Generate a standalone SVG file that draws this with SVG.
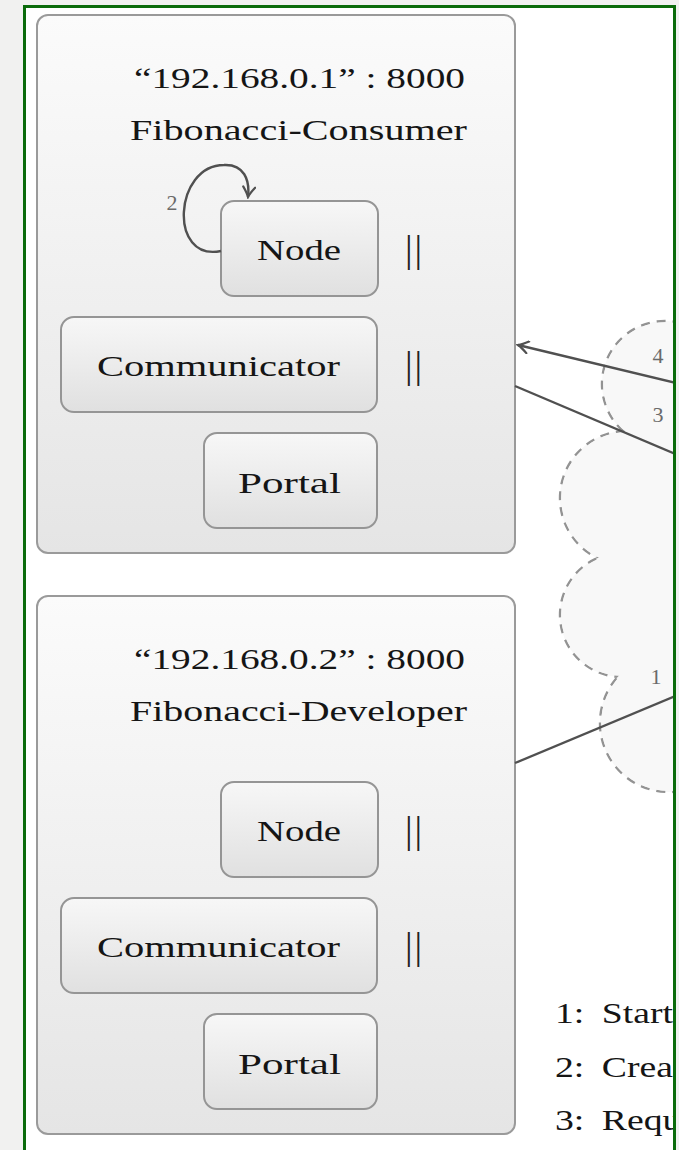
<svg xmlns="http://www.w3.org/2000/svg" width="679" height="1150" viewBox="0 0 679 1150">
<defs>
<style>
.outer{fill:url(#gOuter);stroke:#9a9a9a;stroke-width:2}
.inner{fill:url(#gInner);stroke:#959595;stroke-width:2}
.t{font-family:"Liberation Serif","Times New Roman",serif;font-size:30px;fill:#151515}
.bar{font-family:"Liberation Serif","Times New Roman",serif;font-size:38px;fill:#222;letter-spacing:2px}
.lbl{font-family:"Liberation Serif","Times New Roman",serif;font-size:22px;fill:#6a6a6a}
.edge{fill:none;stroke:#505050;stroke-width:2.4}
.puff{fill:#f8f8f8;stroke:#939393;stroke-width:2.4;stroke-dasharray:9 7}
.puffFill{fill:#f8f8f8;stroke:none}
.leg{font-family:"Liberation Serif","Times New Roman",serif;font-size:29px;fill:#151515}
</style>
<linearGradient id="gOuter" x1="0" y1="0" x2="0" y2="1">
<stop offset="0" stop-color="#fbfbfb"/>
<stop offset="1" stop-color="#e5e5e5"/>
</linearGradient>
<linearGradient id="gInner" x1="0" y1="0" x2="0" y2="1">
<stop offset="0" stop-color="#f7f7f7"/>
<stop offset="1" stop-color="#e0e0e0"/>
</linearGradient>
<marker id="arr" viewBox="-12 -7 14 14" refX="0" refY="0" markerWidth="14" markerHeight="14" markerUnits="userSpaceOnUse" orient="auto">
<path d="M-10,-6 Q-4,-1.5 0,0 Q-4,1.5 -10,6" fill="none" stroke="#505050" stroke-width="2.2" stroke-linecap="round"/>
</marker>
<clipPath id="frameClip"><rect x="26" y="8" width="647" height="1142"/></clipPath>
</defs>
<rect x="0" y="0" width="679" height="1150" fill="#f1f1f0"/>
<rect x="24" y="6" width="650" height="1150" fill="#ffffff"/>
<g clip-path="url(#frameClip)">
<g id="cloud">
<circle class="puff" cx="665" cy="384" r="63"/>
<circle class="puff" cx="627" cy="498" r="67"/>
<circle class="puff" cx="622" cy="615" r="62"/>
<circle class="puff" cx="669" cy="723" r="69"/>
<circle class="puffFill" cx="665" cy="384" r="61.8"/>
<circle class="puffFill" cx="627" cy="498" r="65.8"/>
<circle class="puffFill" cx="622" cy="615" r="60.8"/>
<circle class="puffFill" cx="669" cy="723" r="67.8"/>
<rect class="puffFill" x="640" y="400" width="40" height="340"/>
</g>
<g id="consumer">
<rect class="outer" x="37" y="15" width="478" height="538" rx="11"/>
<text class="t" x="299.5" y="88" text-anchor="middle" textLength="331" lengthAdjust="spacingAndGlyphs">“192.168.0.1” : 8000</text>
<text class="t" x="298.5" y="140" text-anchor="middle" textLength="337" lengthAdjust="spacingAndGlyphs">Fibonacci-Consumer</text>
<g id="consumer-node">
<rect class="inner" x="221" y="201" width="157" height="95" rx="13"/>
<text class="t" x="299" y="260" text-anchor="middle" textLength="84" lengthAdjust="spacingAndGlyphs">Node</text>
</g>
<text class="bar" x="414.5" y="262" text-anchor="middle">||</text>
<g id="consumer-communicator">
<rect class="inner" x="61" y="317" width="316" height="95" rx="13"/>
<text class="t" x="218.5" y="376" text-anchor="middle" textLength="243" lengthAdjust="spacingAndGlyphs">Communicator</text>
</g>
<text class="bar" x="414.5" y="378" text-anchor="middle">||</text>
<g id="consumer-portal">
<rect class="inner" x="204" y="433" width="173" height="95" rx="13"/>
<text class="t" x="289.5" y="493" text-anchor="middle" textLength="103" lengthAdjust="spacingAndGlyphs">Portal</text>
</g>
</g>
<g id="developer">
<rect class="outer" x="37" y="596" width="478" height="538" rx="11"/>
<text class="t" x="299.5" y="669" text-anchor="middle" textLength="331" lengthAdjust="spacingAndGlyphs">“192.168.0.2” : 8000</text>
<text class="t" x="298.5" y="721" text-anchor="middle" textLength="337" lengthAdjust="spacingAndGlyphs">Fibonacci-Developer</text>
<g id="developer-node">
<rect class="inner" x="221" y="782" width="157" height="95" rx="13"/>
<text class="t" x="299" y="841" text-anchor="middle" textLength="84" lengthAdjust="spacingAndGlyphs">Node</text>
</g>
<text class="bar" x="414.5" y="843" text-anchor="middle">||</text>
<g id="developer-communicator">
<rect class="inner" x="61" y="898" width="316" height="95" rx="13"/>
<text class="t" x="218.5" y="957" text-anchor="middle" textLength="243" lengthAdjust="spacingAndGlyphs">Communicator</text>
</g>
<text class="bar" x="414.5" y="959" text-anchor="middle">||</text>
<g id="developer-portal">
<rect class="inner" x="204" y="1014" width="173" height="95" rx="13"/>
<text class="t" x="289.5" y="1074" text-anchor="middle" textLength="103" lengthAdjust="spacingAndGlyphs">Portal</text>
</g>
</g>
<g id="connectors">
<path class="edge" d="M221,251 C168,262 174,165 224,165 C244,164 250,180 248,197" marker-end="url(#arr)"/>
<text class="lbl" x="172" y="210" text-anchor="middle">2</text>
<line class="edge" x1="680" y1="384" x2="518" y2="345" marker-end="url(#arr)"/>
<text class="lbl" x="658" y="363" text-anchor="middle">4</text>
<line class="edge" x1="515" y1="386" x2="680" y2="456"/>
<text class="lbl" x="658" y="422" text-anchor="middle">3</text>
<line class="edge" x1="515" y1="763" x2="680" y2="694"/>
<text class="lbl" x="656" y="684" text-anchor="middle">1</text>
</g>
<g id="legend">
<text class="leg" transform="translate(555 1023) scale(1.3 1)"><tspan x="0">1:</tspan><tspan x="36">Start</tspan></text>
<text class="leg" transform="translate(555 1077) scale(1.3 1)"><tspan x="0">2:</tspan><tspan x="36">Crea</tspan></text>
<text class="leg" transform="translate(555 1130) scale(1.3 1)"><tspan x="0">3:</tspan><tspan x="36">Requ</tspan></text>
</g>
</g>
<g id="frame" fill="none" stroke="#0b6b0b" stroke-width="3">
<line x1="24.5" y1="5" x2="24.5" y2="1150"/>
<line x1="23" y1="6.5" x2="676" y2="6.5"/>
<line x1="674.5" y1="5" x2="674.5" y2="1150"/>
</g>
</svg>
